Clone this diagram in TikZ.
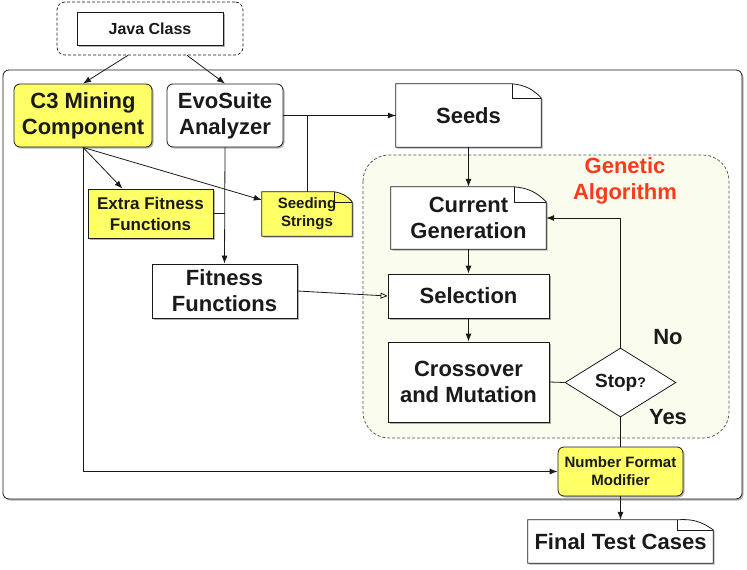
\documentclass[tikz,border=0pt]{standalone}
\usepackage{fontspec}
\setmainfont{Liberation Sans}
\usepackage{tikz}
\usepackage{xcolor}
\usetikzlibrary{arrows.meta,positioning,shapes,shadows,backgrounds}
\definecolor{ink}{HTML}{1A1A1A}
\definecolor{hilite}{HTML}{FFFF66}
\definecolor{gabg}{HTML}{FAFDEE}
\definecolor{gared}{HTML}{FF3A1A}
\newcommand{\bigtxt}{\fontsize{22}{26}\selectfont\bfseries}
\newcommand{\midtxt}{\fontsize{17}{21}\selectfont\bfseries}
\newcommand{\smtxt}{\fontsize{15}{18}\selectfont\bfseries}
\tikzset{
  softshadow/.style={drop shadow={shadow xshift=1.5pt,shadow yshift=-1.5pt,
                     fill=black,opacity=0.3}},
  procbox/.style={draw=ink,fill=white,line width=0.8pt,align=center,
                  inner sep=0pt,font=\bigtxt,text=ink,softshadow},
  roundbox/.style={procbox,rounded corners=6pt},
  hibox/.style={fill=hilite},
  notebox/.style={align=center,inner sep=0pt,font=\bigtxt,text=ink},
  grpbox/.style={draw=ink,line width=0.7pt,dash pattern=on 3pt off 2pt,
                 rounded corners=8pt},
  decision/.style={diamond,aspect=1.6,draw=ink,fill=white,line width=0.8pt,
                   inner sep=0pt,font=\bigtxt,text=ink},
  flowarr/.style={-{Latex[length=8pt,width=6pt]},line width=0.8pt,draw=ink},
  openarr/.style={-{Triangle[open,length=7pt,width=6pt]},line width=0.8pt,draw=ink},
  link/.style={line width=0.8pt,draw=ink}
}
% outline of a page with a folded corner: node, fold width, fold height, fill
\newcommand{\docoutline}[4]{%
  \draw[line width=0.8pt,draw=ink,fill=#4,softshadow]
    (#1.south west) -- (#1.north west) -- ([xshift=-#2]#1.north east)
    to[bend left=20] ([yshift=-#3]#1.north east) -- (#1.south east) -- cycle;
  \draw[line width=0.6pt,draw=ink]
    ([xshift=-#2]#1.north east) -- ([xshift=-#2,yshift=-#3]#1.north east)
    -- ([yshift=-#3]#1.north east);
}

\begin{document}
\begin{tikzpicture}[x=1pt,y=-1pt,>=Latex]
  \useasboundingbox (0,0) rectangle (747,570);
  % containers
  \begin{scope}[on background layer]
    \draw[ink,line width=0.8pt,rounded corners=6pt,fill=white,softshadow]
      (3,70) rectangle (742,499);
    \draw[ink!75,line width=0.7pt,dash pattern=on 3pt off 2pt,
          rounded corners=26pt,fill=gabg] (363,155) rectangle (729,438);
  \end{scope}
  \node[grpbox,minimum width=186pt,minimum height=53pt] (javagrp) at (150,28.5) {};
  \node[procbox,font=\fontsize{16}{19}\selectfont\bfseries,
        minimum width=146pt,minimum height=33pt] (java) at (150,28.5) {Java Class};

  \node[roundbox,hibox,minimum width=138pt,minimum height=63pt] (c3) at (83,115.5)
    {C3 Mining\\Component};
  \node[roundbox,minimum width=116pt,minimum height=63pt] (evo) at (225,115.5)
    {EvoSuite\\Analyzer};
  \node[procbox,hibox,font=\midtxt,minimum width=125pt,minimum height=49pt]
    (extra) at (150.5,213.5) {Extra Fitness\\Functions};
  \node[notebox,font=\smtxt,minimum width=90pt,minimum height=44pt]
    (seedstr) at (307,214) {Seeding\\Strings};
  \node[procbox,minimum width=145pt,minimum height=54pt] (fit) at (224.5,291)
    {Fitness\\Functions};

  \node[notebox,minimum width=145pt,minimum height=63pt] (seeds) at (468.5,115.5) {Seeds};
  \node[notebox,minimum width=155pt,minimum height=62pt] (curgen) at (468.5,218)
    {Current\\Generation};
  \node[procbox,minimum width=161pt,minimum height=44pt] (sel) at (468.5,296) {Selection};
  \node[procbox,minimum width=161pt,minimum height=80pt] (cross) at (468.5,382)
    {Crossover\\and Mutation};
  \node[decision,font=\fontsize{19}{22}\selectfont\bfseries,
        minimum width=111pt,minimum height=69pt] (stop) at (620.5,382.5)
    {Stop{\fontsize{14}{14}\selectfont ?}};
  \node[font=\bigtxt,text=gared,align=center] (galbl) at (625,181) {Genetic\\Algorithm};
  \node[font=\bigtxt,text=ink] (nolbl) at (668,337) {No};
  \node[font=\bigtxt,text=ink] (yeslbl) at (668,417) {Yes};

  \node[roundbox,hibox,font=\smtxt,minimum width=125pt,minimum height=49pt]
    (nfm) at (620.5,471.5) {Number Format\\Modifier};
  \node[notebox,minimum width=185pt,minimum height=43pt] (final) at (620.5,541.5)
    {Final Test Cases};

  % folded pages
  \begin{scope}[on background layer]
    \docoutline{seeds}{29pt}{14pt}{white}
    \docoutline{curgen}{32pt}{15pt}{white}
    \docoutline{seedstr}{18pt}{10pt}{hilite}
    \docoutline{final}{36pt}{10pt}{white}
  \end{scope}

  % connectors
  \draw[flowarr] ([xshift=-22pt]javagrp.south) -- (c3.north);
  \draw[flowarr] ([xshift=37pt]javagrp.south) -- (evo.north);
  \draw[flowarr] (evo.east) -- (seeds.west);
  \draw[link] (seedstr.north) |- (seeds.west);
  \draw[flowarr] (evo.south) -- (fit.north);
  \draw[link] (extra.east) -- (extra.east -| evo.south);
  \draw[flowarr] (c3.south) -- ([xshift=-28pt]extra.north);
  \draw[flowarr] (c3.south) -- ([yshift=14pt]seedstr.west);
  \draw[flowarr] (c3.south) |- (nfm.west);
  \draw[openarr] (fit.east) -- (sel.west);
  \draw[flowarr] (seeds.south) -- (curgen.north);
  \draw[flowarr] (curgen.south) -- (sel.north);
  \draw[flowarr] (sel.south) -- (cross.north);
  \draw[link] (cross.east) -- (stop.west);
  \draw[flowarr] (stop.north) |- (curgen.east);
  \draw[link] (stop.south) -- (nfm.north);
  \draw[flowarr] (nfm.south) -- (final.north);
\end{tikzpicture}
\end{document}
